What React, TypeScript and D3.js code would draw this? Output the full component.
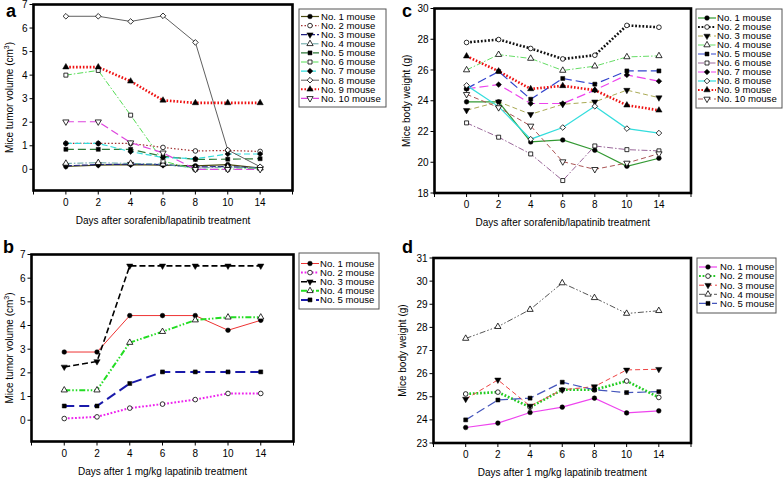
import React from 'react';
import * as d3 from 'd3';

const days = ["0", "2", "4", "6", "8", "10", "14"];
const names10 = ["No. 1 mouse", "No. 2 mouse", "No. 3 mouse", "No. 4 mouse", "No. 5 mouse", "No. 6 mouse", "No. 7 mouse", "No. 8 mouse", "No. 9 mouse", "No. 10 mouse"];
const names5 = ["No. 1 mouse", "No. 2 mouse", "No. 3 mouse", "No. 4 mouse", "No. 5 mouse"];

// Panel a: tumor volume, sorafenib/lapatinib
const aM1 = [0.12, 0.18, 0.2, 0.18, 0.15, 0.2, 0.05];
const aM2 = [1.1, 1.1, 1.1, 0.93, 0.78, 0.8, 0.76];
const aM3 = [0.15, 0.2, 0.22, 0.2, 0.1, 0.12, 0.05];
const aM4 = [0.25, 0.28, 0.25, 0.22, 0.05, 0.1, 0.05];
const aM5 = [0.85, 0.85, 0.85, 0.55, 0.42, 0.43, 0.45];
const aM6 = [4.0, 4.2, 2.3, 0.35, 0.0, 0.0, 0.05];
const aM7 = [1.1, 1.1, 0.75, 0.5, 0.45, 0.65, 0.65];
const aM8 = [6.5, 6.5, 6.28, 6.52, 5.39, 0.82, 0.11];
const aM9 = [4.34, 4.34, 3.74, 2.93, 2.82, 2.82, 2.82];
const aM10 = [2.02, 2.02, 1.13, 0.7, 0.0, 0.0, 0.0];

// Panel b: tumor volume, 1 mg/kg lapatinib
const bM1 = [2.88, 2.88, 4.42, 4.42, 4.42, 3.8, 4.22];
const bM2 = [0.07, 0.14, 0.51, 0.68, 0.87, 1.13, 1.13];
const bM3 = [2.25, 2.48, 6.52, 6.52, 6.52, 6.52, 6.52];
const bM4 = [1.27, 1.27, 3.28, 3.74, 4.23, 4.35, 4.35];
const bM5 = [0.6, 0.6, 1.55, 2.04, 2.04, 2.04, 2.04];

// Panel c: body weight, sorafenib/lapatinib
const cM1 = [23.93, 23.93, 21.32, 21.45, 20.78, 19.74, 20.26];
const cM2 = [27.79, 27.98, 27.4, 26.72, 26.96, 28.9, 28.78];
const cM3 = [23.38, 23.93, 23.12, 23.77, 23.93, 24.69, 24.2];
const cM4 = [26.0, 27.0, 26.75, 25.97, 26.25, 26.85, 26.92];
const cM5 = [24.79, 25.9, 24.1, 25.45, 25.08, 25.94, 25.94];
const cM6 = [22.56, 21.63, 20.54, 18.81, 21.06, 20.82, 20.74];
const cM7 = [24.77, 25.05, 23.82, 23.82, 24.69, 25.68, 25.27];
const cM8 = [25.0, 23.62, 21.5, 22.26, 23.64, 22.19, 21.9];
const cM9 = [26.9, 25.92, 24.77, 24.97, 24.69, 23.71, 23.38];
const cM10 = [24.42, 23.56, 22.36, 20.04, 19.54, 19.95, 20.56];

// Panel d: body weight, 1 mg/kg lapatinib
const dM1 = [23.67, 23.86, 24.32, 24.55, 24.94, 24.3, 24.39];
const dM2 = [25.12, 25.2, 24.55, 25.3, 25.3, 25.68, 24.97];
const dM3 = [24.9, 25.73, 24.6, 25.3, 25.44, 26.16, 26.19];
const dM4 = [27.52, 28.03, 28.77, 29.92, 29.28, 28.6, 28.72];
const dM5 = [24.0, 24.86, 24.94, 25.63, 25.3, 25.18, 25.22];

const tumorTicks = [0, 1, 2, 3, 4, 5, 6, 7];
const weightTicksC = [18, 20, 22, 24, 26, 28, 30];
const weightTicksD = [23, 24, 25, 26, 27, 28, 29, 30, 31];

const FONT = "'Liberation Sans', Arial, Helvetica, sans-serif";

type Marker = 'circle' | 'ocircle' | 'tdown' | 'otup' | 'square' | 'osquare' | 'diamond' | 'odiamond' | 'tup' | 'otdown';
type Style = { color: string; width: number; dash: string; marker: Marker };

const stylesA: Style[] = [
  { color: '#4a4a10', width: 1.2, dash: '', marker: 'circle' },
  { color: '#a03030', width: 1.2, dash: '1.5,2', marker: 'ocircle' },
  { color: '#202080', width: 1.2, dash: '6,2', marker: 'tdown' },
  { color: '#5fa0a0', width: 1, dash: '6,2,1.5,2', marker: 'otup' },
  { color: '#2e7a3a', width: 1.2, dash: '8,4', marker: 'square' },
  { color: '#55dd55', width: 1, dash: '6,2,1.5,2', marker: 'osquare' },
  { color: '#33dddd', width: 1.2, dash: '6,3', marker: 'diamond' },
  { color: '#606060', width: 1, dash: '', marker: 'odiamond' },
  { color: '#ee1111', width: 2.6, dash: '1.6,1.8', marker: 'tup' },
  { color: '#dd44dd', width: 1.2, dash: '8,4', marker: 'otdown' },
];
const stylesB: Style[] = [
  { color: '#ee3333', width: 1, dash: '', marker: 'circle' },
  { color: '#ee22ee', width: 2, dash: '1.8,1.8', marker: 'ocircle' },
  { color: '#000000', width: 1.6, dash: '6,3', marker: 'tdown' },
  { color: '#22dd22', width: 2, dash: '6,2,1.5,2,1.5,2', marker: 'otup' },
  { color: '#1a1aaa', width: 2, dash: '10,5', marker: 'square' },
];
const stylesC: Style[] = [
  { color: '#339933', width: 1.2, dash: '', marker: 'circle' },
  { color: '#111111', width: 2.6, dash: '1.8,1.8', marker: 'ocircle' },
  { color: '#aaaa55', width: 1, dash: '5,3', marker: 'tdown' },
  { color: '#66dd66', width: 1, dash: '6,2,1.5,2', marker: 'otup' },
  { color: '#3344cc', width: 1.2, dash: '9,4', marker: 'square' },
  { color: '#996699', width: 1, dash: '6,2,1.5,2', marker: 'osquare' },
  { color: '#ee44ee', width: 1.2, dash: '9,4', marker: 'diamond' },
  { color: '#33dddd', width: 1.2, dash: '', marker: 'odiamond' },
  { color: '#ee1111', width: 2.6, dash: '1.6,1.8', marker: 'tup' },
  { color: '#aa5555', width: 1, dash: '5,3', marker: 'otdown' },
];
const stylesD: Style[] = [
  { color: '#ee44ee', width: 1.2, dash: '', marker: 'circle' },
  { color: '#22cc22', width: 2.6, dash: '1.8,1.8', marker: 'ocircle' },
  { color: '#ee4444', width: 1, dash: '5,3', marker: 'tdown' },
  { color: '#555555', width: 1, dash: '6,2,1.5,2,1.5,2', marker: 'otup' },
  { color: '#4455bb', width: 1.2, dash: '9,4', marker: 'square' },
];

function MarkerShape({ m, x, y }: { m: Marker; x: number; y: number }) {
  const open = m.startsWith('o');
  let type: any = d3.symbolCircle;
  let size = 16;
  let rot = 0;
  if (m === 'circle' || m === 'ocircle') { type = d3.symbolCircle; size = 17; }
  if (m === 'square' || m === 'osquare') { type = d3.symbolSquare; size = 16; }
  if (m === 'diamond' || m === 'odiamond') { type = (d3 as any).symbolDiamond2 || d3.symbolDiamond; size = 20; }
  if (m === 'tup' || m === 'otup') { type = d3.symbolTriangle; size = 17; }
  if (m === 'tdown' || m === 'otdown') { type = d3.symbolTriangle; size = 17; rot = 180; }
  const path = d3.symbol().type(type).size(size)() as string;
  return (
    <path d={path} transform={`translate(${x},${y}) rotate(${rot})`}
      fill={open ? '#ffffff' : '#000000'} stroke="#000000" strokeWidth={open ? 0.8 : 0.5} />
  );
}

type PanelProps = {
  label: string; labelX: number; labelY: number;
  left: number; right: number; top: number; bottom: number;
  yDomain: [number, number]; yTicks: number[];
  series: number[][]; styles: Style[]; names: string[];
  yTitle: React.ReactNode; xTitle: string; yTitleX: number;
  legend: { x: number; y: number; w: number; h: number; firstY: number; step: number; sampleX: number; textX: number };
};

function Panel(p: PanelProps) {
  const x = d3.scaleLinear().domain([-1, 7]).range([p.left, p.right]);
  const y = d3.scaleLinear().domain(p.yDomain).range([p.bottom, p.top]);
  const line = d3.line<number>().x((_, i) => x(i)).y(v => y(v));
  const xTickIdx = d3.range(-1, 8);
  const cx = (p.left + p.right) / 2;
  const cy = (p.top + p.bottom) / 2;
  return (
    <g fontFamily={FONT}>
      <text x={p.labelX} y={p.labelY} fontSize={18} fontWeight="bold">{p.label}</text>
      {p.yTicks.map(t => (
        <g key={'y' + t}>
          <line x1={p.left - 4} x2={p.left} y1={y(t)} y2={y(t)} stroke="#000" strokeWidth={1} />
          <text x={p.left - 6} y={y(t)} dy="0.35em" textAnchor="end" fontSize={10}>{t}</text>
        </g>
      ))}
      {xTickIdx.map(i => (
        <line key={'x' + i} x1={x(i)} x2={x(i)} y1={p.bottom} y2={p.bottom + 4} stroke="#000" strokeWidth={1} />
      ))}
      {days.map((d, i) => (
        <text key={'xl' + i} x={x(i)} y={p.bottom + 15} textAnchor="middle" fontSize={10}>{d}</text>
      ))}
      <text x={cx} y={p.bottom + 33} textAnchor="middle" fontSize={10}>{p.xTitle}</text>
      <text transform={`translate(${p.yTitleX},${cy}) rotate(-90)`} textAnchor="middle" fontSize={10}>{p.yTitle}</text>
      {p.series.map((s, k) => (
        <path key={'l' + k} d={line(s) as string} fill="none" stroke={p.styles[k].color}
          strokeWidth={p.styles[k].width} strokeDasharray={p.styles[k].dash || undefined} />
      ))}
      {p.series.map((s, k) => s.map((v, i) => (
        <MarkerShape key={'m' + k + '_' + i} m={p.styles[k].marker} x={x(i)} y={y(v)} />
      )))}
      <rect x={p.left} y={p.top} width={p.right - p.left} height={p.bottom - p.top} fill="none" stroke="#000" strokeWidth={2.6} />
      <rect x={p.legend.x} y={p.legend.y} width={p.legend.w} height={p.legend.h} fill="#fff" stroke="#555" strokeWidth={1} />
      {p.names.map((n, k) => {
        const ly = p.legend.firstY + k * p.legend.step;
        const st = p.styles[k];
        return (
          <g key={'lg' + k}>
            <line x1={p.legend.sampleX} x2={p.legend.sampleX + 18} y1={ly} y2={ly} stroke={st.color}
              strokeWidth={Math.min(st.width, 2)} strokeDasharray={st.dash || undefined} />
            <MarkerShape m={st.marker} x={p.legend.sampleX + 9} y={ly} />
            <text x={p.legend.textX} y={ly} dy="0.35em" fontSize={9.6}>{n}</text>
          </g>
        );
      })}
    </g>
  );
}

const cm3 = <>Mice tumor volume (cm<tspan dy={-4} fontSize={7}>3</tspan><tspan dy={4}>)</tspan></>;

export default function App() {
  return (
    <svg width={784} height={479} style={{ position: 'absolute', left: 0, top: 0, background: '#fff' }}>
      <Panel label="a" labelX={6} labelY={17} left={33.5} right={292.5} top={4.5} bottom={190.5}
        yDomain={[-0.9, 7]} yTicks={tumorTicks}
        series={[aM1, aM2, aM3, aM4, aM5, aM6, aM7, aM8, aM9, aM10]} styles={stylesA} names={names10}
        yTitle={cm3} xTitle="Days after sorafenib/lapatinib treatment" yTitleX={13}
        legend={{ x: 299, y: 9, w: 87, h: 98, firstY: 16.5, step: 9.1, sampleX: 301, textX: 321 }} />
      <Panel label="b" labelX={3} labelY={253} left={31.5} right={293.5} top={254.5} bottom={441.5}
        yDomain={[-0.9, 7]} yTicks={tumorTicks}
        series={[bM1, bM2, bM3, bM4, bM5]} styles={stylesB} names={names5}
        yTitle={cm3} xTitle="Days after 1 mg/kg lapatinib treatment" yTitleX={13}
        legend={{ x: 299, y: 253, w: 80, h: 56, firstY: 263.5, step: 9.1, sampleX: 301, textX: 320 }} />
      <Panel label="c" labelX={402} labelY={17} left={434.5} right={691} top={8.5} bottom={193}
        yDomain={[18, 30]} yTicks={weightTicksC}
        series={[cM1, cM2, cM3, cM4, cM5, cM6, cM7, cM8, cM9, cM10]} styles={stylesC} names={names10}
        yTitle="Mice body weight (g)" xTitle="Days after sorafenib/lapatinib treatment" yTitleX={410}
        legend={{ x: 696, y: 9, w: 86, h: 99, firstY: 18, step: 9.0, sampleX: 698, textX: 717 }} />
      <Panel label="d" labelX={402} labelY={253} left={433.5} right={691} top={258} bottom={443}
        yDomain={[23, 31]} yTicks={weightTicksD}
        series={[dM1, dM2, dM3, dM4, dM5]} styles={stylesD} names={names5}
        yTitle="Mice body weight (g)" xTitle="Days after 1 mg/kg lapatinib treatment" yTitleX={406}
        legend={{ x: 697, y: 258, w: 79, h: 55, firstY: 267, step: 9.1, sampleX: 699, textX: 720 }} />
    </svg>
  );
}
